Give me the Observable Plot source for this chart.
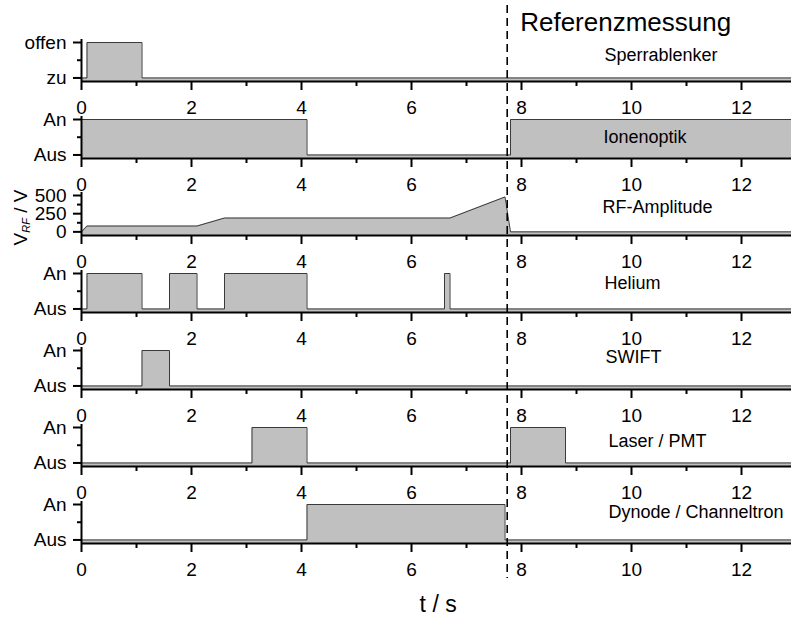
<!DOCTYPE html>
<html><head><meta charset="utf-8">
<script src="https://cdn.jsdelivr.net/npm/d3@7"></script>
<script src="https://cdn.jsdelivr.net/npm/@observablehq/plot@0.6"></script>
<style>
html,body{margin:0;padding:0;background:#fff;}
#chart{position:relative;width:791px;height:617px;overflow:hidden;background:#fff;}
#chart svg{position:absolute;left:0;overflow:visible;background:transparent;}
</style></head><body><div id="chart"></div>
<script>
// ---------- data ----------
const timesSperr  = [0, 0.1, 1.1, 13];
const stateSperr  = [0, 1, 0, 0];
const timesIonen  = [0, 4.1, 7.8, 13];
const stateIonen  = [1, 0, 1, 1];
const timesRF     = [0, 0.1, 2.1, 2.6, 6.7, 7.7, 7.8, 13];
const ampRF       = [0, 80, 80, 190, 190, 480, 0, 0];
const timesHelium = [0, 0.1, 1.1, 1.6, 2.1, 2.6, 4.1, 6.6, 6.7, 13];
const stateHelium = [0, 1, 0, 1, 0, 1, 0, 1, 0, 0];
const timesSwift  = [0, 1.1, 1.6, 13];
const stateSwift  = [0, 1, 0, 0];
const timesLaser  = [0, 3.1, 4.1, 7.8, 8.8, 13];
const stateLaser  = [0, 1, 0, 1, 0, 0];
const timesDynode = [0, 4.1, 7.7, 13];
const stateDynode = [0, 1, 0, 0];

const panelNames = ["Sperrablenker", "Ionenoptik", "RF-Amplitude", "Helium", "SWIFT", "Laser / PMT", "Dynode / Channeltron"];
const shutterTickLabels = ["zu", "offen"];
const onOffTickLabels = ["Aus", "An"];
const rfTicks = [0, 250, 500];
const rfMinorTicks = [125, 375];
const xTicks = [0, 2, 4, 6, 8, 10, 12];
const xMinorTicks = [1, 3, 5, 7, 9, 11];
const refTime = 7.74;
const titleText = "Referenzmessung";
const xLabelText = "t / s";

// ---------- layout ----------
const W = 791, H = 617;
const ML = 81, MR = 0;
const X_MAX = (W - ML - MR) / 55;
const FONT = "'Liberation Sans', Arial, Helvetica, sans-serif";
const container = document.getElementById("chart");

const panels = [
  {t: timesSperr,  v: stateSperr,  axisY: 81,  h: 39, dom: [-0.1, 1], ticks: [0, 1], minor: [0.5], fmt: d => shutterTickLabels[d], curve: "step-after", name: panelNames[0], lx: 604, ly: 0.63},
  {t: timesIonen,  v: stateIonen,  axisY: 158, h: 39, dom: [-0.1, 1], ticks: [0, 1], minor: [0.5], fmt: d => onOffTickLabels[d], curve: "step-after", name: panelNames[1], lx: 603, ly: 0.49},
  {t: timesRF,     v: ampRF,       axisY: 235, h: 40, dom: [-50, 500], ticks: rfTicks, minor: rfMinorTicks, fmt: d => String(d), curve: "linear", name: panelNames[2], lx: 602, ly: 335},
  {t: timesHelium, v: stateHelium, axisY: 312, h: 39, dom: [-0.1, 1], ticks: [0, 1], minor: [0.5], fmt: d => onOffTickLabels[d], curve: "step-after", name: panelNames[3], lx: 604, ly: 0.72},
  {t: timesSwift,  v: stateSwift,  axisY: 389, h: 39, dom: [-0.1, 1], ticks: [0, 1], minor: [0.5], fmt: d => onOffTickLabels[d], curve: "step-after", name: panelNames[4], lx: 605, ly: 0.80},
  {t: timesLaser,  v: stateLaser,  axisY: 466, h: 39, dom: [-0.1, 1], ticks: [0, 1], minor: [0.5], fmt: d => onOffTickLabels[d], curve: "step-after", name: panelNames[5], lx: 608, ly: 0.605},
  {t: timesDynode, v: stateDynode, axisY: 543, h: 39, dom: [-0.1, 1], ticks: [0, 1], minor: [0.5], fmt: d => onOffTickLabels[d], curve: "step-after", name: panelNames[6], lx: 608, ly: 0.77},
];

const MT = 4, MB = 36;
panels.forEach((p, i) => {
  const data = p.t.map((t, k) => ({t, v: p.v[k]}));
  const base = p.dom[0];
  const marks = [
    Plot.areaY(data, {x: "t", y1: () => base, y2: "v", curve: p.curve, fill: "#c0c0c0"}),
    Plot.line(data, {x: "t", y: "v", curve: p.curve, stroke: "#3a3a3a", strokeWidth: 1}),
    Plot.ruleY([base], {stroke: "#000", strokeWidth: 2}),
    Plot.ruleX([0], {stroke: "#000", strokeWidth: 2, insetTop: -3}),
    Plot.axisX({ticks: xTicks, label: null, tickSize: 9, tickPadding: 10, fontSize: 19, strokeWidth: 2, tickFormat: d => String(d)}),
    Plot.axisX({ticks: xMinorTicks, label: null, tickSize: 5, tickPadding: 0, strokeWidth: 2, tickFormat: () => ""}),
    Plot.axisY({ticks: p.ticks, label: null, tickSize: 8, tickPadding: 7, fontSize: 19, strokeWidth: 2, tickFormat: p.fmt}),
    Plot.axisY({ticks: p.minor, label: null, tickSize: 4, tickPadding: 0, strokeWidth: 2, tickFormat: () => ""}),
    Plot.text([p.name], {x: (p.lx - ML) / 55, y: p.ly, text: d => d, textAnchor: "start", fontSize: 18, fill: "#000"})
  ];
  if (i === 2) {
    marks.push(Plot.text(["VRFLABEL"], {frameAnchor: "left", dx: -61, dy: 2, rotate: -90, textAnchor: "middle", lineAnchor: "middle", text: d => d, fontSize: 19, fill: "#000"}));
  }
  const svg = Plot.plot({
    width: W, height: MT + p.h + MB,
    marginLeft: ML, marginRight: MR, marginTop: MT, marginBottom: MB,
    x: {domain: [0, X_MAX], label: null},
    y: {domain: p.dom, label: null},
    style: {fontFamily: FONT, background: "transparent", overflow: "visible", color: "#000"},
    marks
  });
  svg.style.top = (p.axisY - p.h - MT) + "px";
  container.appendChild(svg);
});

// Overlay: dashed reference line, title, x label
const overlay = Plot.plot({
  width: W, height: H,
  marginLeft: ML, marginRight: MR, marginTop: 5, marginBottom: 39,
  x: {domain: [0, X_MAX], axis: null, label: null},
  style: {fontFamily: FONT, background: "transparent", overflow: "visible", color: "#000"},
  marks: [
    Plot.ruleX([refTime], {stroke: "#000", strokeWidth: 1.6, strokeDasharray: "8,5"}),
    Plot.text([titleText], {x: refTime, frameAnchor: "top", lineAnchor: "top", dx: 13, dy: 7, textAnchor: "start", fontSize: 26, fill: "#000", text: d => d}),
    Plot.text([xLabelText], {x: X_MAX / 2 + 0.03, frameAnchor: "bottom", lineAnchor: "bottom", dy: 33, fontSize: 23, fill: "#000", text: d => d})
  ]
});
overlay.style.top = "0px";
overlay.style.pointerEvents = "none";
container.appendChild(overlay);

// subscript for V_RF label
d3.select(container).selectAll("text").filter(function() { return this.textContent === "VRFLABEL"; })
  .each(function() {
    const t = d3.select(this);
    t.text(null);
    t.attr("text-anchor", "middle");
    t.append("tspan").text("V");
    t.append("tspan").attr("font-size", 11).attr("font-style", "italic").attr("dy", "0.35em").text("RF");
    t.append("tspan").attr("dy", "-0.2em").text(" / V");
  });
</script></body></html>
